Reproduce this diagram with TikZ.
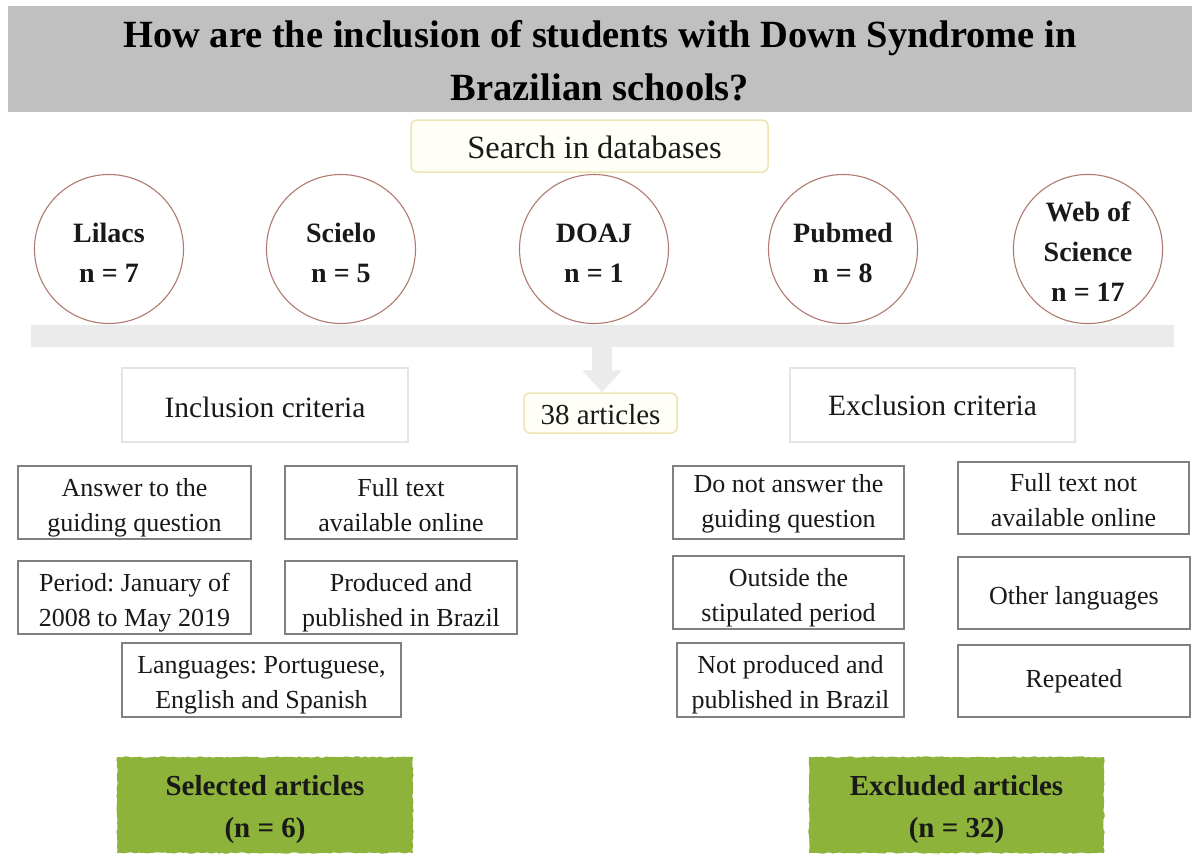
\documentclass[tikz,border=0pt]{standalone}
\usepackage{fontspec}
\setmainfont{Liberation Serif}
\usetikzlibrary{arrows.meta,decorations.pathmorphing}
\definecolor{titlegray}{RGB}{192,192,192}
\definecolor{barfill}{RGB}{235,235,235}
\definecolor{circline}{RGB}{176,122,112}
\definecolor{yline}{RGB}{236,228,180}
\definecolor{yfill}{RGB}{255,255,248}
\definecolor{critline}{RGB}{228,228,228}
\definecolor{boxline}{RGB}{128,128,128}
\definecolor{leaf}{RGB}{141,179,58}
\definecolor{ink}{RGB}{25,25,25}
\frenchspacing
\newcommand{\ctext}[2][4pt]{\raisebox{-#1}[\height][\depth]{\begin{tabular}{@{}c@{}}#2\end{tabular}}}
\tikzset{
  titlebox/.style={fill=titlegray, inner sep=0pt, text=black,
    font=\fontsize{38.5}{53}\selectfont\bfseries},
  searchbox/.style={draw=yline, fill=yfill, line width=1.5pt, rounded corners=6pt,
    inner sep=0pt, text=ink, font=\fontsize{32.5}{38}\selectfont},
  dbcircle/.style={circle, draw=circline, line width=1.1pt, minimum size=149pt,
    inner sep=0pt, text=ink, font=\fontsize{28}{40}\selectfont\bfseries},
  critbox/.style={draw=critline, line width=1.5pt, inner sep=0pt, text=ink,
    font=\fontsize{29.5}{36}\selectfont},
  itembox/.style={draw=boxline, line width=2pt, inner sep=0pt, text=ink,
    font=\fontsize{26}{35}\selectfont},
  resultbox/.style={fill=leaf, inner sep=0pt, text=ink,
    font=\fontsize{29}{41.5}\selectfont\bfseries,
    decorate, decoration={random steps, segment length=3pt, amplitude=0.7pt}},
}
\begin{document}
\begin{tikzpicture}[x=1pt,y=-1pt]
\pgfmathsetseed{7}
\useasboundingbox (0,0) rectangle (1192,855);
\fill[white] (0,0) rectangle (1192,855);
% title
\node[titlebox, minimum width=1184pt, minimum height=102pt] (title) at (600,59)
  {\ctext[4pt]{How are the inclusion of students with Down Syndrome in\\Brazilian schools?}};
% search
\node[searchbox, minimum width=357pt, minimum height=52pt] (search) at (589.5,146) {\ctext[5pt]{\hspace{10pt}Search in databases}};
% databases
\node[dbcircle] (lilacs) at (109,249) {\ctext[5pt]{Lilacs\\n = 7}};
\node[dbcircle] (scielo) at (341,249) {\ctext[5pt]{Scielo\\n = 5}};
\node[dbcircle] (doaj) at (594,249) {\ctext[5pt]{DOAJ\\n = 1}};
\node[dbcircle] (pubmed) at (843,249) {\ctext[5pt]{Pubmed\\n = 8}};
\node[dbcircle] (wos) at (1088,249) {\ctext[4pt]{Web of\\Science\\n = 17}};
% collecting bar
\node[fill=barfill, minimum width=1143pt, minimum height=22pt, inner sep=0pt] (bar) at (602.5,336) {};
% 38 articles
\node[searchbox, minimum width=153pt, minimum height=40pt, font=\fontsize{29}{34}\selectfont] (n38) at (600.5,413) {\ctext[5pt]{38 articles}};
\draw[barfill, line width=20pt, -{Triangle[width=38pt,length=22pt]}] (bar.south -| 602,0) -- (n38.north -| 602,0);
% criteria headers
\node[critbox, minimum width=286pt, minimum height=74pt] (incl) at (265,405) {\ctext[5pt]{Inclusion criteria}};
\node[critbox, minimum width=285pt, minimum height=74pt] (excl) at (932.5,405) {\ctext[3pt]{Exclusion criteria}};
% inclusion items
\node[itembox, minimum width=233pt, minimum height=73pt] (i1) at (134.5,502.5) {\ctext{Answer to the\\guiding question}};
\node[itembox, minimum width=232pt, minimum height=73pt] (i2) at (401,502.5) {\ctext{Full text\\available online}};
\node[itembox, minimum width=233pt, minimum height=73pt] (i3) at (134.5,597.5) {\ctext{Period: January of\\2008 to May 2019}};
\node[itembox, minimum width=232pt, minimum height=73pt] (i4) at (401,597.5) {\ctext{Produced and\\published in Brazil}};
\node[itembox, minimum width=279pt, minimum height=74pt] (i5) at (261.5,680) {\ctext{Languages: Portuguese,\\English and Spanish}};
% exclusion items
\node[itembox, minimum width=231pt, minimum height=73pt] (e1) at (788.5,502.5) {\ctext[0pt]{Do not answer the\\guiding question}};
\node[itembox, minimum width=231pt, minimum height=72pt] (e2) at (1073.5,498) {\ctext{Full text not\\available online}};
\node[itembox, minimum width=231pt, minimum height=73pt] (e3) at (788.5,592.5) {\ctext{Outside the\\stipulated period}};
\node[itembox, minimum width=232pt, minimum height=72pt] (e4) at (1074,593) {\ctext[4pt]{Other languages}};
\node[itembox, minimum width=227pt, minimum height=74pt] (e5) at (790.5,680) {\ctext{Not produced and\\published in Brazil}};
\node[itembox, minimum width=232pt, minimum height=72pt] (e6) at (1074,681) {\ctext[-1pt]{Repeated}};
% results
\node[resultbox, minimum width=296pt, minimum height=96pt] (sel) at (265,805) {\ctext[3pt]{Selected articles\\(n = 6)}};
\node[resultbox, minimum width=295pt, minimum height=96pt] (exc) at (956.5,805) {\ctext[3pt]{Excluded articles\\(n = 32)}};
\end{tikzpicture}
\end{document}
